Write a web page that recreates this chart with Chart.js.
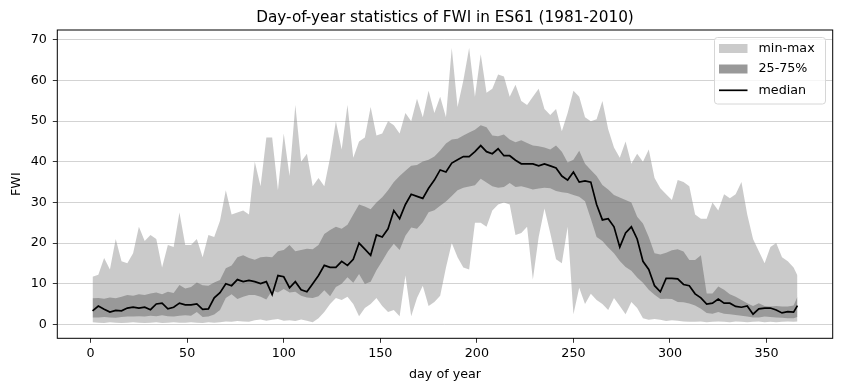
<!DOCTYPE html>
<html>
<head>
<meta charset="utf-8">
<script src="https://cdn.jsdelivr.net/npm/chart.js@4.4.1/dist/chart.umd.min.js"></script>
<style>
  html, body { margin: 0; padding: 0; background: #fff; }
  #wrap { width: 842px; height: 391px; }
</style>
</head>
<body>
<div id="wrap"><canvas id="fwiChart" width="842" height="391"></canvas></div>
<script>
// day of year (sampled)
const days = [1,4,7,10,13,16,19,22,25,28,31,34,37,40,43,46,49,
  52,55,58,61,64,67,70,73,76,79,82,85,88,91,94,97,100,103,106,109,112,
  115,118,121,124,127,130,133,136,139,142,145,148,151,154,157,160,163,166,169,172,175,178,181,
  184,187,190,193,196,199,202,205,208,211,214,217,220,223,226,229,232,235,238,241,244,
  247,250,253,256,259,262,265,268,271,274,277,280,283,286,289,292,295,298,301,304,307,310,
  313,316,319,322,325,328,331,334,337,340,343,346,349,352,355,358,361,364,366];

const fwiMax = [11.7,12.2,16.3,13.5,21,15.5,15,17.5,24,20.5,22,21,14,19.5,19,27.5,19.5,
  19.5,21,16.5,22,21.5,25.5,33,27,27.5,28,27,40,34,46,46,33,47,36.5,54,40,42,
  34,36,34,41,50,43,54,41,45,46,53.5,46.5,47,50,49,47,52,50,55.5,51,57.5,52,56,
  51,68,53.5,60,68,56,66.5,57,58,61.5,61,56,59,55,54,56,58,53,51.5,53,47.5,
  52,57.5,56,51,50,50.5,55,48,43.5,41,45,39.5,42,40,43,36,33.5,32,30.6,35.5,35,34,
  27,26,26,30,28,32,31,32,35,27,21,18,15,19,20,16.5,15.5,14,12];

const fwiQ75 = [6.4,6.5,6.3,6.6,6.4,6.8,7.2,7.0,7.4,7.2,7.6,7.8,7.4,8.0,7.7,9.7,8.8,
  9.2,10.3,9.6,9.5,10.3,10.9,13.8,14.5,16.5,17,16.3,15.9,16.5,16.6,16.5,18,18.3,19.5,18,18.3,18.6,
  18.5,19.5,22.2,23.2,24,23.5,24.5,27,29.5,29,28.3,30,31.3,33,35,36.5,37.8,39,39.2,40.1,40.5,41.3,42.8,
  44.5,45.5,45.7,46.5,47.2,47.9,49,48.5,46.5,46.3,46.7,45.5,44.8,45.3,44.6,44,43.8,43.5,43,44,42.5,
  39.8,40.5,42.7,39.5,38,36.5,34.3,33.2,31.8,31.2,30.6,30,26.5,24.8,21.5,17.5,17.2,17.6,18.2,18.5,17.9,15.8,
  15.8,17,7.6,7.6,9.3,8.5,7.4,6.8,6.0,5.2,4.5,5.2,4.5,4.4,4.5,4.4,4.4,4.6,6.8];

const fwiMedian = [3.3,4.5,3.7,3.0,3.4,3.3,4.0,4.2,4.0,4.2,3.6,5.0,5.2,3.8,4.2,5.2,4.8,
  4.8,5.0,3.7,3.8,6.5,7.8,10,9.5,11,10.5,10.8,10.5,10,10.5,7.3,12,11.7,9,10.5,8.5,8,
  10,12,14.5,14,14,15.5,14.5,16,20,18.5,17,22,21.5,23.5,28,26,29.5,32,31.5,31,33.5,35.5,38,
  37.5,39.7,40.5,41.3,41.3,42.5,44,42.5,42,43.2,41.5,41.5,40.4,39.5,39.5,39.5,39,39.5,39,38.5,36.5,
  35.5,37.5,35,35.3,35,29.5,25.7,26,24,19,22.5,24,21,15.5,13.5,9.5,8,11.3,11.3,11.2,9.8,9.5,
  7.5,6.5,5,5.2,6.2,5.2,5.2,4.4,4.2,4.5,2.5,3.8,4.0,4.0,3.5,2.8,3.1,3.0,4.6];

const fwiQ25 = [1.7,1.7,1.8,1.7,1.6,1.8,1.9,1.9,2.0,1.9,2.1,2.0,2.2,2.0,1.9,2.1,2.2,
  2.1,3.0,1.8,1.9,2.4,3.5,6.5,7.4,6.2,6.8,7.2,7.2,6.8,6.1,8.3,7.8,8.7,7.8,8.0,7.0,6.6,
  6.5,6.9,8.4,6.9,9.2,10.0,11.6,10.2,12.4,9.9,10.5,13.3,15.6,18.0,19.8,18.3,21.8,23.8,23.5,25.1,27.6,28.1,29.2,
  30.2,31.6,33.0,33.6,33.9,34.2,35.8,34.9,34.0,33.6,33.8,34.8,33.8,34.0,33.6,33.2,33.4,33.6,33.5,32.8,32.5,
  32.3,31.8,31.4,30.3,26,21.5,20.5,18.9,17.5,15.6,14.1,13.2,11.5,10.2,8.5,7.3,6.2,6.3,6.2,5.5,5.4,5.1,
  4.6,3.8,2.8,2.6,3.0,2.6,2.5,2.3,2.1,1.9,1.7,1.7,1.9,1.8,1.7,1.6,1.5,1.5,1.8];

const fwiMin = [0.5,0.4,0.3,0.5,0.4,0.3,0.4,0.5,0.4,0.3,0.4,0.5,0.3,0.4,0.5,0.4,0.4,
  0.5,0.4,0.3,0.5,0.4,0.5,0.7,0.6,0.8,0.7,0.6,1.0,1.2,0.9,1.1,1.3,0.9,1.0,0.8,1.2,0.9,
  0.5,1.5,3,5,6.5,6,6.8,5,2,4,5,6.5,4.5,3,3.5,2,12,2,6.5,9.5,4.5,5.5,7,
  14,20,16.5,14,13.5,25,25,24,28,29.5,30,29.5,22,22.5,24,11,21.5,28.5,22.5,16,15,
  24,2.5,9,5,7.5,6,5,3.5,6.5,4.5,2.5,5.5,4,1.5,1.1,1.3,1.1,0.8,1,0.9,0.7,0.6,
  0.6,0.7,0.5,0.6,0.7,0.6,0.5,0.7,0.6,0.5,0.6,0.7,0.5,0.6,0.5,0.6,0.7,0.6,0.7];

const xTicks = [0, 50, 100, 150, 200, 250, 300, 350];
const yTicks = [0, 10, 20, 30, 40, 50, 60, 70];
const legendLabels = ["min-max", "25-75%", "median"];
const titleText = "Day-of-year statistics of FWI in ES61 (1981-2010)";

const FONT = "'DejaVu Sans', sans-serif";
const LIGHT = "rgba(150,150,150,0.5)";
const DARK = "rgba(100,100,100,0.48)";

function pts(vals) {
  return days.map((d, i) => ({ x: d, y: vals[i] }));
}

// title, axes frame and legend drawn like matplotlib does
const decor = {
  id: "decor",
  afterDraw(chart) {
    const ctx = chart.ctx;
    const a = chart.chartArea;
    ctx.save();
    ctx.fillStyle = "#000";
    ctx.font = "15.3px " + FONT;
    ctx.textAlign = "center";
    ctx.textBaseline = "alphabetic";
    ctx.fillText(titleText, (a.left + a.right) / 2, 22);

    ctx.strokeStyle = "#000";
    ctx.lineWidth = 1;
    ctx.strokeRect(a.left, a.top, a.right - a.left, a.bottom - a.top);

    // legend
    const bx = 714.5, by = 37.5, bw = 111, bh = 66.5;
    ctx.beginPath();
    ctx.roundRect(bx, by, bw, bh, 3);
    ctx.fillStyle = "rgba(255,255,255,0.8)";
    ctx.fill();
    ctx.strokeStyle = "#d6d6d6";
    ctx.lineWidth = 1;
    ctx.stroke();

    const rows = [48.5, 69, 90.3];
    ctx.fillStyle = "rgb(203,203,203)";
    ctx.fillRect(719, rows[0] - 4.5, 28.5, 9);
    ctx.fillStyle = "rgb(153,153,153)";
    ctx.fillRect(719, rows[1] - 4.5, 28.5, 9);
    ctx.beginPath();
    ctx.moveTo(719, rows[2]);
    ctx.lineTo(747.5, rows[2]);
    ctx.strokeStyle = "#000";
    ctx.lineWidth = 1.7;
    ctx.stroke();

    ctx.fillStyle = "#000";
    ctx.font = "12.7px " + FONT;
    ctx.textAlign = "left";
    ctx.textBaseline = "middle";
    legendLabels.forEach((t, i) => ctx.fillText(t, 758.5, rows[i]));
    ctx.restore();
  }
};

const tickFont = { family: FONT, size: 12.7 };

new Chart(document.getElementById("fwiChart").getContext("2d"), {
  type: "line",
  data: {
    datasets: [
      { label: "median", data: pts(fwiMedian), borderColor: "#000", borderWidth: 1.7,
        pointRadius: 0, fill: false, order: 0 },
      { label: "q75", data: pts(fwiQ75), borderColor: "transparent", borderWidth: 0,
        backgroundColor: DARK, pointRadius: 0, fill: 2, order: 1 },
      { label: "q25", data: pts(fwiQ25), borderColor: "transparent", borderWidth: 0,
        pointRadius: 0, fill: false, order: 2 },
      { label: "max", data: pts(fwiMax), borderColor: "transparent", borderWidth: 0,
        backgroundColor: LIGHT, pointRadius: 0, fill: 4, order: 3 },
      { label: "min", data: pts(fwiMin), borderColor: "transparent", borderWidth: 0,
        pointRadius: 0, fill: false, order: 4 }
    ]
  },
  options: {
    responsive: false,
    animation: false,
    devicePixelRatio: 1,
    layout: { padding: { top: 30, right: 9.3, left: 0, bottom: 0 } },
    plugins: {
      legend: { display: false },
      tooltip: { enabled: false }
    },
    scales: {
      x: {
        type: "linear",
        min: -17.25,
        max: 384.25,
        afterBuildTicks: (s) => { s.ticks = xTicks.map((v) => ({ value: v })); },
        afterFit: (s) => { s.height = 52.7; },
        border: { display: false },
        grid: { drawOnChartArea: false, tickLength: 4.5, tickColor: "#000", tickWidth: 0.8 },
        ticks: { color: "#000", font: tickFont, padding: 3, maxRotation: 0, autoSkip: false,
          callback: (v) => String(v) },
        title: { display: true, text: "day of year", color: "#000", font: tickFont,
          padding: { top: 0, bottom: 8.4 } }
      },
      y: {
        min: -3.45,
        max: 72.45,
        afterBuildTicks: (s) => { s.ticks = yTicks.map((v) => ({ value: v })); },
        afterFit: (s) => { s.width = 57.3; },
        border: { display: false },
        grid: { color: "#c8c8c8", lineWidth: 0.8, tickLength: 4.5, tickColor: "#000", tickWidth: 0.8 },
        ticks: { color: "#000", font: tickFont, padding: 6, callback: (v) => String(v) },
        title: { display: true, text: "FWI", color: "#000", font: tickFont,
          padding: { top: 9.4, bottom: 0 } }
      }
    }
  },
  plugins: [decor]
});
</script>
</body>
</html>
